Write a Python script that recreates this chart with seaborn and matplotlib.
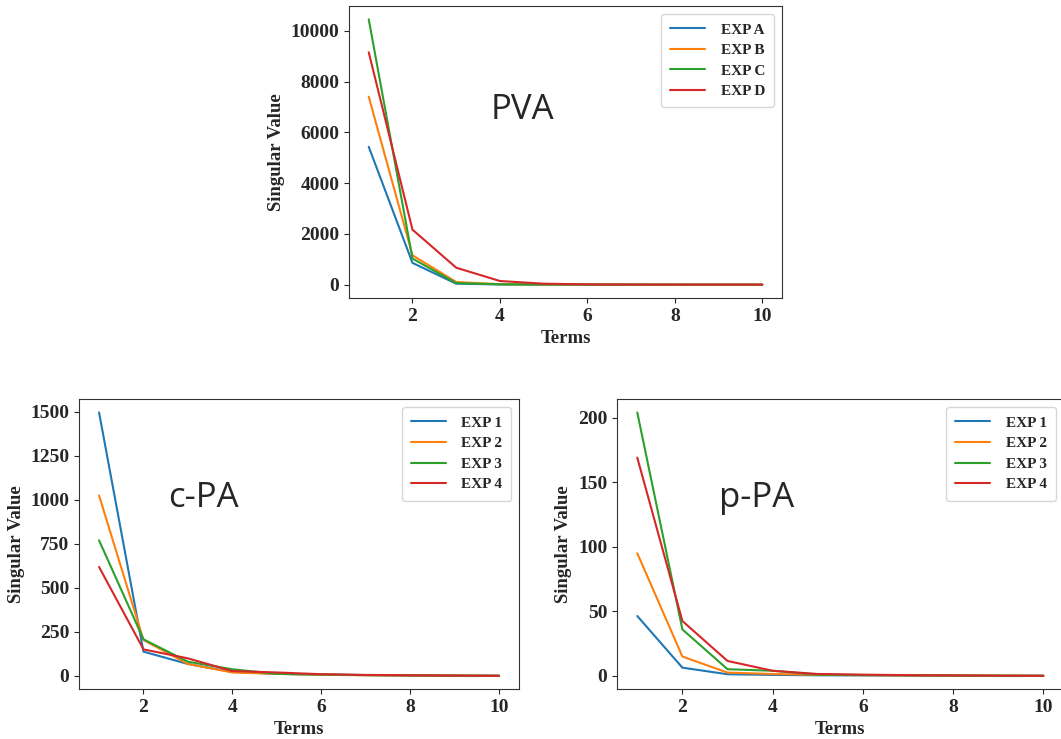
import numpy as np
import pandas as pd
import matplotlib
matplotlib.use("Agg")
import matplotlib.pyplot as plt
import seaborn as sns

terms = list(range(1, 11))

pva_labels = ["EXP A", "EXP B", "EXP C", "EXP D"]
pva_a = [5435, 860, 40, 10, 5, 3, 2, 1, 1, 0]
pva_b = [7410, 1160, 105, 20, 8, 4, 2, 1, 1, 0]
pva_c = [10460, 1030, 65, 15, 6, 3, 2, 1, 1, 0]
pva_d = [9160, 2170, 670, 145, 40, 12, 5, 3, 2, 1]

cpa_labels = ["EXP 1", "EXP 2", "EXP 3", "EXP 4"]
cpa_1 = [1496, 138, 68, 23, 12, 8, 5, 3, 2, 1]
cpa_2 = [1025, 204, 68, 20, 12, 7, 4, 3, 2, 1]
cpa_3 = [770, 208, 81, 38, 12, 8, 5, 3, 2, 1]
cpa_4 = [619, 151, 100, 28, 20, 10, 6, 4, 2, 1]

ppa_labels = ["EXP 1", "EXP 2", "EXP 3", "EXP 4"]
ppa_1 = [46.4, 6.4, 1.3, 0.8, 0.5, 0.4, 0.3, 0.2, 0.1, 0.1]
ppa_2 = [95, 15, 2.6, 1.5, 0.9, 0.6, 0.4, 0.3, 0.2, 0.1]
ppa_3 = [204, 36, 5.2, 4.0, 1.0, 0.7, 0.5, 0.3, 0.2, 0.1]
ppa_4 = [169, 42.5, 11.6, 4.0, 1.5, 1.0, 0.6, 0.4, 0.2, 0.1]

titles = ["PVA", "c-PA", "p-PA"]
yticks_list = [
    [0, 2000, 4000, 6000, 8000, 10000],
    [0, 250, 500, 750, 1000, 1250, 1500],
    [0, 50, 100, 150, 200],
]

sns.set_style("ticks")
plt.rcParams["font.family"] = ["Liberation Serif", "DejaVu Serif"]

fig = plt.figure(figsize=(10.61, 7.39), dpi=100)
positions = [
    [0.329, 0.5968, 0.408, 0.395],
    [0.0745, 0.0677, 0.4147, 0.392],
    [0.5815, 0.0677, 0.421, 0.392],
]
datasets = [
    (pva_labels, [pva_a, pva_b, pva_c, pva_d]),
    (cpa_labels, [cpa_1, cpa_2, cpa_3, cpa_4]),
    (ppa_labels, [ppa_1, ppa_2, ppa_3, ppa_4]),
]
text_pos = [(0.40, 0.645), (0.282, 0.66), (0.313, 0.66)]
palette = sns.color_palette("tab10", 4)

for pos, (labels, series), title, tp, yt in zip(positions, datasets, titles, text_pos, yticks_list):
    ax = fig.add_axes(pos)
    rows = []
    for lab, vals in zip(labels, series):
        for t, v in zip(terms, vals):
            rows.append({"Terms": t, "Singular Value": v, "exp": lab})
    df = pd.DataFrame(rows)
    sns.lineplot(data=df, x="Terms", y="Singular Value", hue="exp",
                 palette=palette, linewidth=1.5, ax=ax)
    ax.set_xlabel("Terms", fontsize=13.5, fontweight="bold")
    ax.set_ylabel("Singular Value", fontsize=13.5, fontweight="bold")
    ax.set_xticks([2, 4, 6, 8, 10])
    ax.set_yticks(yt)
    for lbl in ax.get_xticklabels() + ax.get_yticklabels():
        lbl.set_fontweight("bold")
        lbl.set_fontsize(14)
    ax.legend(loc="upper right",
              prop={"family": "Liberation Serif", "weight": "bold", "size": 11},
              handlelength=2.3, handletextpad=1.0, labelspacing=0.45, borderpad=0.6)
    ax.text(tp[0], tp[1], title, transform=ax.transAxes, fontsize=25,
            family="Open Sans", ha="center", va="center")
    for s in ax.spines.values():
        s.set_color("#333333")

fig.savefig("out.png", dpi=100)
